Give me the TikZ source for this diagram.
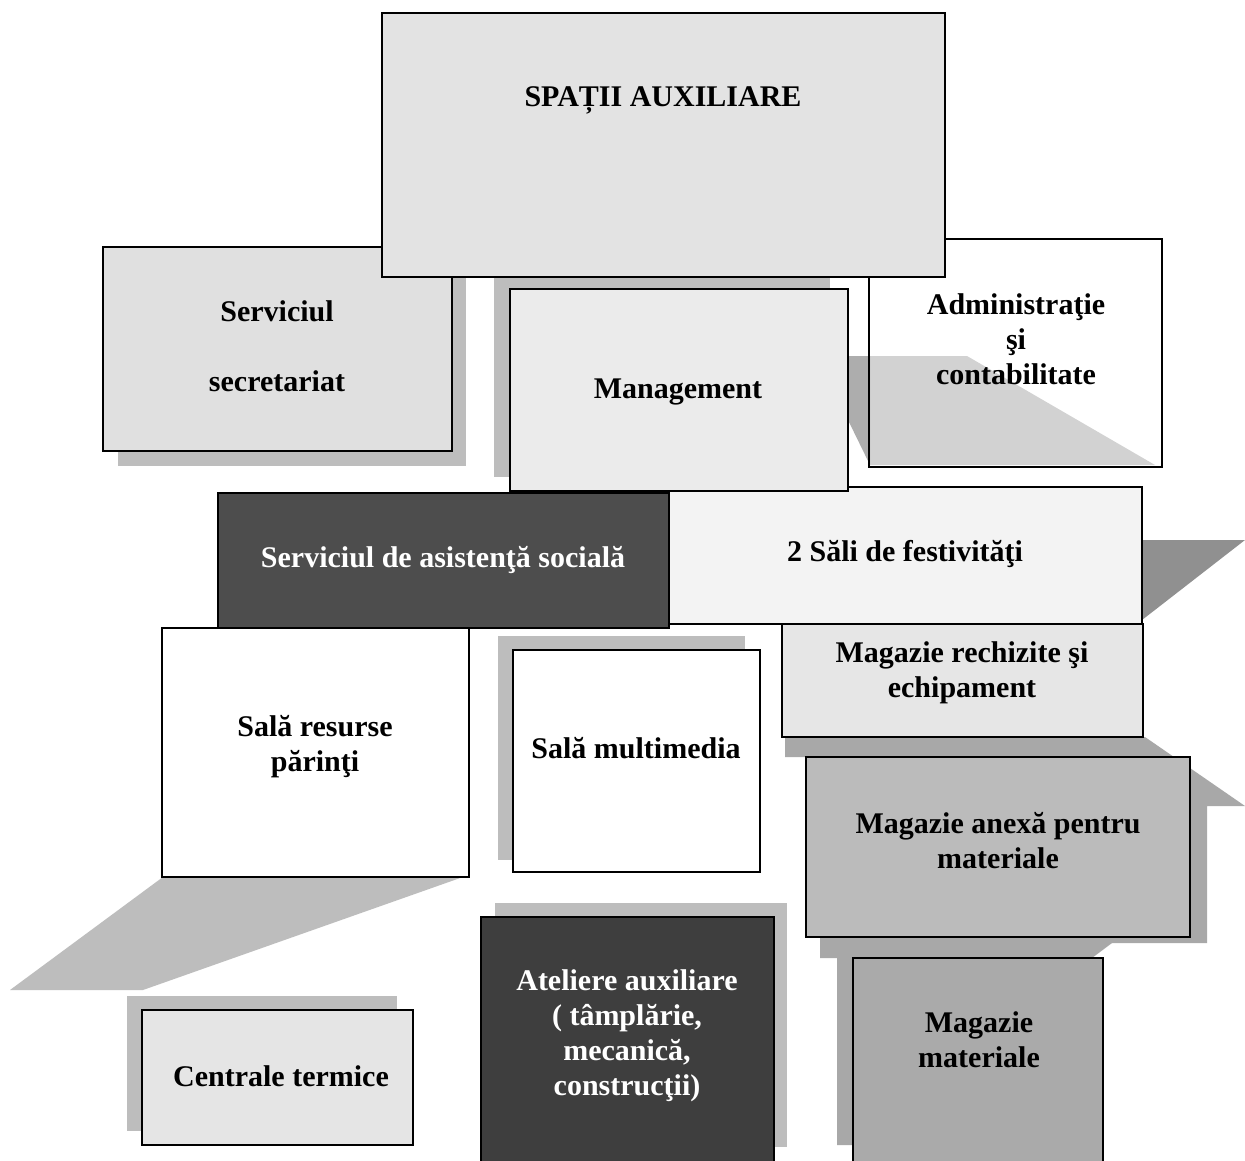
\documentclass[tikz,border=0pt]{standalone}
\usepackage{fontspec}
\setmainfont{Liberation Serif}
\definecolor{cSpatii}{HTML}{E3E3E3}
\definecolor{cSecr}{HTML}{E0E0E0}
\definecolor{cMgmt}{HTML}{EBEBEB}
\definecolor{cAsist}{HTML}{4D4D4D}
\definecolor{cSali}{HTML}{F3F3F3}
\definecolor{cRech}{HTML}{E6E6E6}
\definecolor{cAnexa}{HTML}{BBBBBB}
\definecolor{cMagMat}{HTML}{AAAAAA}
\definecolor{cCentr}{HTML}{E5E5E5}
\definecolor{cAtel}{HTML}{3E3E3E}
\definecolor{shLight}{HTML}{BDBDBD}
\definecolor{shMid}{HTML}{A8A8A8}
\definecolor{shDark}{HTML}{909090}
\definecolor{shAdmin}{HTML}{D2D2D2}
\definecolor{shAdminDk}{HTML}{ADADAD}
\begin{document}
\begin{tikzpicture}[x=1pt,y=-1pt,
  box/.style={draw=black,line width=1.4pt},
  shadowfill/.style={fill=#1,draw=none},
  lbl/.style={font=\bfseries\fontsize{30}{35}\selectfont,align=center,inner sep=0pt,text=black},
  lblw/.style={lbl,text=white}]
\useasboundingbox (0,0) rectangle (1245,1161);
\clip (0,0) rectangle (1245,1161);
\fill[white] (0,0) rectangle (1245,1161);

% ---- shadows ----
\path[shadowfill=shLight] (118,278) rectangle (466,466);            % secretariat
\path[shadowfill=shLight] (494,277) rectangle (830,477);            % management
\path[shadowfill=shLight] (498,636) rectangle (745,860);            % multimedia
\path[shadowfill=shLight] (127,996) rectangle (397,1131);           % centrale
\path[shadowfill=shLight] (495,903) rectangle (787,1147);           % ateliere
\path[shadowfill=shLight] (163,877) -- (463,877) -- (143,990) -- (10,990) -- cycle; % resurse wedge
\path[shadowfill=shMid] (785,737) -- (1145,737) -- (1245,806) -- (1207,806)
      -- (1207,943) -- (823,943) -- (823,900) -- (806,900) -- (806,757) -- (785,757) -- cycle; % rechizite/anexa
\path[shadowfill=shMid] (820,937) -- (1120,937) -- (1092,958) -- (1092,1145) -- (837,1145) -- (837,958) -- (820,958) -- cycle; % magazie materiale
\path[shadowfill=shDark] (1142,540) -- (1245,540) -- (1142,620) -- cycle; % sali

% ---- boxes ----
\path[box,fill=cSecr] (103,247) rectangle (452,451);
\path[fill=white] (869,239) rectangle (1162,467);
\path[shadowfill=shAdmin] (870,356) -- (967,356) -- (1155,465) -- (870,465) -- cycle;
\path[shadowfill=shAdminDk] (848,356) -- (870,356) -- (870,465) -- (848,420) -- cycle;
\path[box] (869,239) rectangle (1162,467);
\path[box,fill=cSpatii] (382,13) rectangle (945,277);
\path[box,fill=cSali] (669,487) rectangle (1142,624);
\path[box,fill=cAsist] (218,493) rectangle (669,628);
\path[box,fill=cMgmt] (510,289) rectangle (848,491);
\path[box,fill=cRech] (782,624) rectangle (1143,737);
\path[box,fill=cAnexa] (806,757) rectangle (1190,937);
\path[box,fill=cMagMat] (853,958) rectangle (1103,1170);
\path[box,fill=white] (162,628) rectangle (469,877);
\path[box,fill=white] (513,650) rectangle (760,872);
\path[box,fill=cCentr] (142,1010) rectangle (413,1145);
\path[box,fill=cAtel] (481,917) rectangle (774,1170);

% ---- labels ----
\node[lbl] (spatii) at (663,100) {\strut SPAȚII AUXILIARE\strut};
\node[lbl] (secr) at (277,349) {\strut Serviciul\\[35pt]secretariat\strut};
\node[lbl] (mgmt) at (678,391) {\strut Management\strut};
\node[lbl] (admin) at (1016,342) {\strut Administraţie\\şi\\contabilitate\strut};
\node[lblw] (asist) at (443,560) {\strut Serviciul de asistenţă socială\strut};
\node[lbl] (sali) at (905,554) {\strut 2 Săli de festivităţi\strut};
\node[lbl] (rech) at (962,673) {\strut Magazie rechizite şi\\echipament\strut};
\node[lbl] (anexa) at (998,844) {\strut Magazie anexă pentru\\materiale\strut};
\node[lbl] (resurse) at (315,747) {\strut Sală resurse\\părinţi\strut};
\node[lbl] (multi) at (636,751) {\strut Sală multimedia\strut};
\node[lbl] (centr) at (281,1079) {\strut Centrale termice\strut};
\node[lblw] (atel) at (627,1036) {\strut Ateliere auxiliare\\( tâmplărie,\\mecanică,\\construcţii)\strut};
\node[lbl] (magmat) at (979,1043) {\strut Magazie\\materiale\strut};
\end{tikzpicture}
\end{document}
